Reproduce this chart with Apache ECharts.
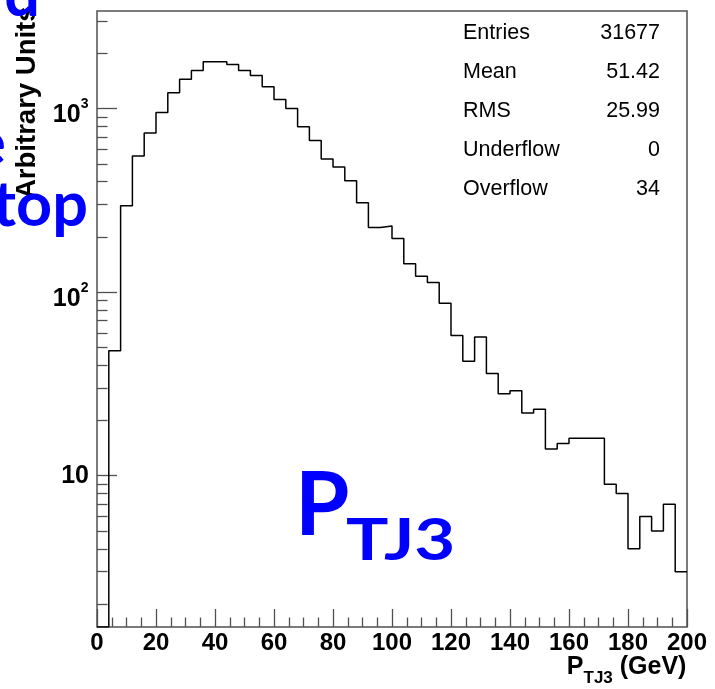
<!DOCTYPE html>
<html>
<head>
<meta charset="utf-8">
<script src="https://cdn.jsdelivr.net/npm/echarts@6/dist/echarts.min.js"></script>
<style>
html,body{margin:0;padding:0;background:#fff;}
#chart{width:715px;height:689px;}
</style>
</head>
<body>
<div id="chart"></div>
<script>
// ---- data ----
const binLowEdges = [0,4,8,12,16,20,24,28,32,36,40,44,48,52,56,60,64,68,72,76,80,84,88,92,96,
  100,104,108,112,116,120,124,128,132,136,140,144,148,152,156,160,164,168,172,176,180,184,188,192,196];
const lastBinHighEdge = 200;
const counts = [0,48,296,551,737,951,1218,1446,1611,1797,
  1797,1738,1611,1513,1313,1119,1000,795,670,532,
  480,404,307,225,229,196,143,122,113,87,
  58,42,57,36,28,29,22,23,14,15,
  16,16,16,9,8,4,6,5,7,3];
const xTickValues = [0,20,40,60,80,100,120,140,160,180,200];
const yMajorTicks = [10,100,1000];
const yMinorTicks = [2,3,4,5,6,7,8,9,20,30,40,50,60,70,80,90,200,300,400,500,600,700,800,900,2000,3000];
const statNames = ['Entries','Mean','RMS','Underflow','Overflow'];
const statValues = ['31677','51.42','25.99','0','34'];
const xTitle = ['P','TJ3',' (GeV)'];
const yTitle = 'Arbitrary Units';

// ---- chart ----
const Y_MIN = 1.5, Y_MAX = 3400;
const FONT = '"Liberation Sans", Arial, Helvetica, sans-serif';
const BLUEFONT = '"Comic Sans MS", Lato, "Open Sans", sans-serif';
const FRAME = '#505050';

// empty bins are drawn on the axis floor (as ROOT does on log scale)
const stepData = binLowEdges.map((x, i) => [x, counts[i] > 0 ? counts[i] : Y_MIN]);
stepData.push([lastBinHighEdge, counts[counts.length - 1]]);

const chart = echarts.init(document.getElementById('chart'), null, {renderer: 'canvas'});

const grid = {left: 97, right: 28, top: 11, bottom: 62};
const gridW = 715 - grid.left - grid.right;

const statGraphics = [];
statNames.forEach((n, i) => {
  statGraphics.push({type: 'text', x: 463, y: 32.7 + 39.2 * i, z: 10,
    style: {text: n, font: '21.5px ' + FONT, fill: '#000', align: 'left', verticalAlign: 'middle'}});
  statGraphics.push({type: 'text', x: 660, y: 32.7 + 39.2 * i, z: 10,
    style: {text: statValues[i], font: '21.5px ' + FONT, fill: '#000', align: 'right', verticalAlign: 'middle'}});
});

const option = {
  animation: false,
  backgroundColor: '#fff',
  grid: Object.assign({show: true, borderColor: FRAME, borderWidth: 1.5, backgroundColor: 'transparent'}, grid),
  xAxis: {
    type: 'value', min: 0, max: 200, interval: 20,
    axisLine: {show: false},
    axisTick: {show: true, inside: true, length: 18, lineStyle: {color: FRAME, width: 1.3}},
    minorTick: {show: true, splitNumber: 4, length: 9.5, lineStyle: {color: FRAME, width: 1.3}},
    splitLine: {show: false},
    axisLabel: {margin: 4, color: '#000', fontSize: 24, fontWeight: 'bold', fontFamily: FONT,
      showMinLabel: true, showMaxLabel: true}
  },
  yAxis: [
    {
      type: 'log', logBase: 10, min: Y_MIN, max: Y_MAX, position: 'left',
      axisLine: {show: false},
      splitLine: {show: false},
      axisTick: {show: true, inside: true, length: 20, customValues: yMajorTicks,
        lineStyle: {color: FRAME, width: 1.3}},
      axisLabel: {
        customValues: yMajorTicks, margin: 8, color: '#000', padding: [8, 0, 0, 0],
        formatter: function (v) {
          const e = Math.round(Math.log10(v));
          return e === 1 ? '{m|10}' : '{b|10}{s|' + e + '}{z| }';
        },
        rich: {
          m: {fontSize: 25, fontWeight: 'bold', fontFamily: FONT, color: '#000', padding: [0, 0, 8, 0]},
          b: {fontSize: 25, fontWeight: 'bold', fontFamily: FONT, color: '#000', verticalAlign: 'bottom'},
          s: {fontSize: 14, fontWeight: 'bold', fontFamily: FONT, color: '#000', verticalAlign: 'top'},
          z: {fontSize: 2, lineHeight: 31}
        }
      }
    },
    {
      type: 'log', logBase: 10, min: Y_MIN, max: Y_MAX, position: 'right', offset: -gridW,
      axisLine: {show: false},
      splitLine: {show: false},
      axisTick: {show: true, inside: false, length: 10.5, customValues: yMinorTicks,
        lineStyle: {color: FRAME, width: 1.3}},
      axisLabel: {show: false}
    }
  ],
  series: [{
    type: 'line', step: 'end', data: stepData, yAxisIndex: 0,
    symbol: 'none', clip: true,
    lineStyle: {color: '#000', width: 1.5}
  }],
  graphic: [
    {type: 'text', x: 27, y: 199, rotation: Math.PI / 2, z: 5,
      style: {text: yTitle, font: 'bold 27.5px ' + FONT, fill: '#000', align: 'left', verticalAlign: 'middle'}},
    {type: 'text', x: 687, y: 655, z: 5,
      style: {
        text: '{a|' + xTitle[0] + '}{b|' + xTitle[1] + '}{a|' + xTitle[2] + '}{z| }',
        align: 'right', verticalAlign: 'top',
        rich: {
          a: {fontSize: 25, fontWeight: 'bold', fontFamily: FONT, fill: '#000', color: '#000', verticalAlign: 'top'},
          b: {fontSize: 17, fontWeight: 'bold', fontFamily: FONT, fill: '#000', color: '#000', verticalAlign: 'bottom'},
          z: {fontSize: 2, lineHeight: 32}
        }
      }},
    {type: 'text', x: 295, y: 507, z: 20,
      style: {text: 'P', font: 'bold 88px ' + BLUEFONT, fill: '#0000ff', align: 'left', verticalAlign: 'middle'}},
    {type: 'text', x: 346, y: 541, z: 20, scaleX: 1.22,
      style: {text: 'TJ3', font: 'bold 58px ' + BLUEFONT, fill: '#0000ff', align: 'left', verticalAlign: 'middle'}},
    {type: 'text', x: 88, y: 206, z: 20,
      style: {text: 'top', font: 'bold 63px ' + BLUEFONT, fill: '#0000ff', align: 'right', verticalAlign: 'middle'}},
    {type: 'text', x: 40, y: -4, z: 20,
      style: {text: 'd', font: 'bold 63px ' + BLUEFONT, fill: '#0000ff', align: 'right', verticalAlign: 'middle'}},
    {type: 'text', x: 6, y: 145, z: 20,
      style: {text: 'e', font: 'bold 63px ' + BLUEFONT, fill: '#0000ff', align: 'right', verticalAlign: 'middle'}}
  ].concat(statGraphics)
};
chart.setOption(option);
</script>
</body>
</html>
